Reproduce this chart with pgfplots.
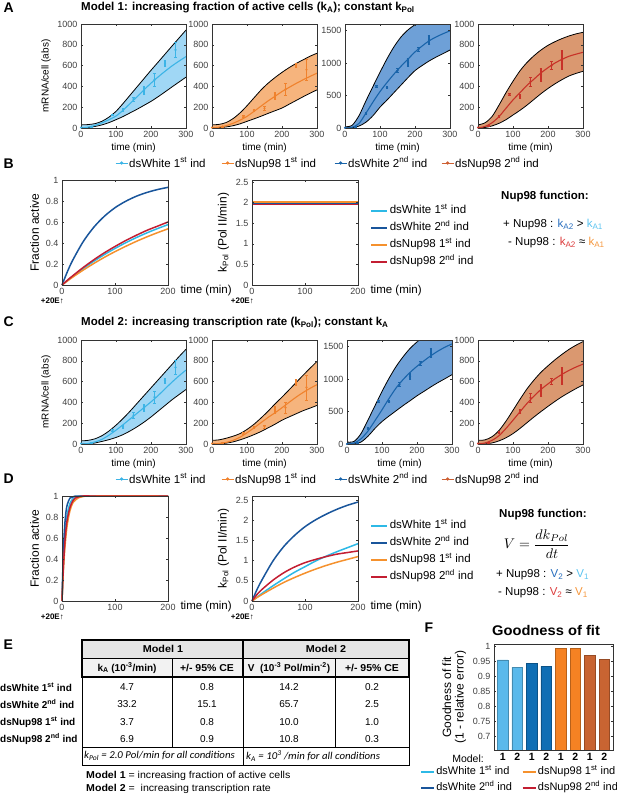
\documentclass[border=0pt]{standalone}
\usepackage{fontspec}
\setmainfont{Liberation Sans}
\newfontfamily\carlito{Carlito}
\usepackage{graphicx}
\usepackage{pgfplots}
\usepackage{pgfplotstable}
\pgfplotsset{compat=1.18}

\definecolor{cLB}{RGB}{60,180,230}
\definecolor{fLB}{RGB}{160,215,245}
\definecolor{cOR}{RGB}{240,130,45}
\definecolor{fOR}{RGB}{246,180,125}
\definecolor{cDB}{RGB}{25,100,170}
\definecolor{fDB}{RGB}{110,160,215}
\definecolor{cRD}{RGB}{200,50,40}
\definecolor{fRD}{RGB}{218,152,112}
\definecolor{lgBR}{RGB}{205,95,50}
\definecolor{bLB}{RGB}{45,185,230}
\definecolor{bDB}{RGB}{25,85,155}
\definecolor{bOR}{RGB}{245,145,45}
\definecolor{bRD}{RGB}{195,30,50}
\definecolor{tDB}{RGB}{40,110,190}
\definecolor{tLB}{RGB}{90,195,240}
\definecolor{tRD}{RGB}{220,60,60}
\definecolor{tOR}{RGB}{245,150,60}
\definecolor{fb1}{RGB}{90,185,235}
\definecolor{fb2}{RGB}{15,110,180}
\definecolor{fb3}{RGB}{245,130,35}
\definecolor{fb4}{RGB}{200,100,50}

% ---------- Model 1 bands ----------
\pgfplotstableread{
t u l m
0 30 0 0
20 33 5 8
40 42 15 25
60 65 30 50
80 105 52 80
100 160 80 115
120 235 110 170
140 315 145 235
160 395 180 300
180 475 218 367
200 555 256 431
220 632 300 490
240 710 347 545
260 788 395 597
280 865 442 643
300 942 489 687
}\tAa
\pgfplotstableread{
t y e
0 5 5
30 12 5
90 128 8
120 176 12
150 278 20
180 361 38
210 463 65
240 623 25
270 751 70
}\dAa
\pgfplotstableread{
t u l m
0 30 0 0
20 35 3 8
40 52 10 22
60 90 22 45
80 145 40 75
100 214 64 112
120 290 88 160
140 365 113 210
160 430 140 260
180 485 166 305
200 535 192 351
220 580 228 390
240 620 264 428
260 655 300 463
280 690 334 496
300 719 367 527
}\tAb
\pgfplotstableread{
t y e
0 5 5
30 15 5
90 112 8
120 170 10
150 190 18
180 312 35
210 372 55
240 605 20
270 560 100
}\dAb
\pgfplotstableread{
t u l m
0 20 0 0
20 40 5 10
40 190 30 70
60 420 90 230
80 640 190 400
100 857 321 560
120 1065 430 700
140 1250 545 830
160 1400 660 950
180 1510 775 1060
200 1590 883 1170
220 1660 960 1260
240 1720 1030 1340
260 1770 1090 1400
280 1810 1145 1450
300 1850 1199 1495
}\tAc
\pgfplotstableread{
t y e
0 5 5
30 20 8
60 225 12
90 640 10
120 625 20
150 883 30
180 1010 55
210 1214 30
240 1352 70
}\dAc
\pgfplotstableread{
t u l m
0 30 0 0
20 50 5 15
40 110 20 50
60 220 45 110
80 340 80 190
100 450 125 270
120 550 170 340
140 630 220 410
160 695 275 470
180 750 330 530
200 795 380 580
220 830 425 625
240 860 465 660
260 885 500 690
280 905 525 710
300 920 545 728
}\tAd
\pgfplotstableread{
t y e
0 5 5
30 20 5
60 112 10
90 320 10
120 303 20
150 447 45
180 511 60
210 600 40
240 655 90
}\dAd
% ---------- Model 2 bands ----------
\pgfplotstableread{
t u l m
0 30 0 0
20 35 0 5
40 50 10 20
60 80 25 45
80 125 42 85
100 181 63 133
120 245 90 185
140 315 125 240
160 390 165 295
180 465 210 350
200 540 260 405
220 615 315 465
240 690 370 530
260 765 425 595
280 840 475 655
300 911 524 711
}\tCa
\pgfplotstableread{
t y e
0 5 5
30 10 5
90 133 10
120 165 12
150 276 25
180 349 35
210 451 60
240 610 25
270 737 70
}\dCa
\pgfplotstableread{
t u l m
0 35 0 0
20 40 0 5
40 55 8 15
60 75 20 35
80 100 40 65
100 140 63 108
120 190 90 155
140 250 120 205
160 315 155 255
180 385 190 300
200 451 229 349
220 520 260 400
240 590 290 450
260 660 320 495
280 728 345 535
300 794 371 571
}\tCb
\pgfplotstableread{
t y e
0 5 5
30 10 5
90 105 8
120 160 10
150 168 15
180 330 35
210 350 55
240 590 30
270 545 120
}\dCb
\pgfplotstableread{
t u l m
0 30 0 0
20 40 0 15
40 160 30 80
60 370 120 200
80 590 240 360
100 809 345 526
120 1010 430 700
140 1190 510 860
160 1340 590 990
180 1470 665 1100
200 1570 742 1196
220 1660 810 1280
240 1760 880 1360
260 1870 945 1430
280 1960 1005 1490
300 2040 1067 1540
}\tCc
\pgfplotstableread{
t y e
0 0 5
30 20 8
60 242 10
90 655 12
120 655 15
150 912 30
180 1041 50
210 1247 30
240 1402 70
}\dCc
\pgfplotstableread{
t u l m
0 35 0 0
20 40 0 10
40 70 10 35
60 130 30 80
80 220 60 150
100 324 100 229
120 430 150 310
140 530 205 390
160 615 260 460
180 690 312 525
200 752 362 578
220 810 410 627
240 862 455 670
260 910 495 708
280 950 533 740
300 984 568 768
}\tCd
\pgfplotstableread{
t y e
0 5 5
30 15 5
60 110 10
120 317 20
150 444 40
180 514 60
210 603 30
240 657 80
}\dCd
% ---------- kinetics ----------
\pgfplotstableread{
t lb db or rd
0 0 0 0 0
10 0.042 0.125 0.037 0.045
20 0.082 0.234 0.074 0.087
40 0.157 0.413 0.142 0.167
60 0.226 0.55 0.205 0.24
80 0.29 0.655 0.264 0.307
100 0.348 0.736 0.318 0.367
120 0.402 0.797 0.368 0.423
140 0.451 0.845 0.415 0.473
160 0.496 0.881 0.458 0.52
180 0.537 0.909 0.498 0.56
200 0.575 0.93 0.535 0.60
}\tBa
\pgfplotstableread{
t lb db or rd
0 1.98 1.97 2.01 1.95
200 1.98 1.97 2.01 1.95
}\tBb
\pgfplotstableread{
t lb db or rd
0 0 0 0 0
2.5 0.36 0.46 0.28 0.31
5 0.59 0.71 0.48 0.53
7.5 0.74 0.85 0.62 0.68
10 0.83 0.92 0.73 0.78
15 0.93 0.98 0.86 0.89
20 0.97 0.99 0.93 0.95
25 0.99 1.0 0.96 0.98
30 0.995 1.0 0.98 0.99
40 1.0 1.0 0.995 1.0
60 1 1 1 1
200 1 1 1 1
}\tDa
\pgfplotstableread{
t lb db or rd
0 0 0 0 0
10 0.1 0.3 0.09 0.17
20 0.2 0.55 0.17 0.3
40 0.38 1.0 0.32 0.52
60 0.55 1.35 0.46 0.7
80 0.71 1.62 0.58 0.84
100 0.85 1.84 0.69 0.95
120 0.99 2.01 0.79 1.03
140 1.11 2.15 0.88 1.1
160 1.22 2.27 0.96 1.16
180 1.32 2.37 1.03 1.2
200 1.42 2.45 1.1 1.24
}\tDb

\pgfplotsset{
  base/.style={scale only axis, axis on top, tick align=inside, major tick length=2pt,
    axis line style={black!80, line width=0.7pt}, tick style={black!80, line width=0.5pt},
    tick label style={font=\fontsize{9}{10}\selectfont, text=black!75},
    /pgf/number format/assume math mode=true, /pgf/number format/1000 sep={},
    scaled ticks=false},
  mrna/.style={base, anchor=south west, width=105pt, height=104pt, xmin=0, xmax=300,
    xtick={0,100,200,300}, ymin=0,
    xlabel={time (min)}, xlabel style={font=\fontsize{10}{12}\selectfont, yshift=2pt},
    ylabel style={font=\fontsize{10}{12}\selectfont}},
  legA/.style={legend columns=4, legend cell align=left,
    legend style={at={(0.295,-0.3365)}, anchor=west, draw=none, fill=none,
      font=\fontsize{11.5}{13}\selectfont, nodes={inner xsep=1pt, inner ysep=1pt}},
    legend image code/.code={\draw[##1, line width=1pt] (0pt,0pt) -- (12pt,0pt); \fill[##1] (6pt,0pt) circle (1.4pt);}},
  kin/.style={base, anchor=south west, width=106pt, height=105pt, xmin=0, xmax=200,
    xtick={0,100,200}, ymin=0, clip=false,
    xlabel={time (min)}, xlabel style={at={(axis description cs:1,0)}, anchor=west,
      xshift=9pt, yshift=-6pt, font=\fontsize{11.5}{13}\selectfont},
    ylabel style={font=\fontsize{12}{14}\selectfont}},
  legB/.style={legend cell align=left,
    legend style={at={(1.086,0.462)}, anchor=west, draw=none, fill=none,
      font=\fontsize{11.5}{13}\selectfont, row sep=5pt,
      nodes={inner xsep=1.5pt, inner ysep=0pt, text height=9pt, text depth=3pt}},
    legend image code/.code={\draw[##1, line width=2pt] (0pt,0pt) -- (16pt,0pt);}},
}

\newcommand{\mrnaplot}[4]{%
  \addplot[fill=#2, draw=none, smooth] table[x=t,y=u]{#1} \closedcycle;
  \addplot[fill=white, draw=none, smooth] table[x=t,y=l]{#1} \closedcycle;
  \addplot[black, line width=0.8pt, smooth] table[x=t,y=u]{#1};
  \addplot[black, line width=0.8pt, smooth] table[x=t,y=l]{#1};
  \addplot[#3, line width=1.1pt, smooth] table[x=t,y=m]{#1};
  \addplot[#3, only marks, mark=*, mark size=0.9pt,
    error bars/.cd, y dir=both, y explicit, error bar style={line width=1.1pt},
    error mark options={rotate=90, mark size=1.4pt, line width=0.6pt}]
    table[x=t,y=y,y error=e]{#4};
}
\newcommand{\legAentries}{%
  \addlegendimage{cLB}\addlegendentry{\makebox[91pt][l]{dsWhite 1\textsuperscript{st} ind}}
  \addlegendimage{cOR}\addlegendentry{\makebox[98pt][l]{dsNup98 1\textsuperscript{st} ind}}
  \addlegendimage{cDB}\addlegendentry{\makebox[92pt][l]{dsWhite 2\textsuperscript{nd} ind}}
  \addlegendimage{lgBR}\addlegendentry{dsNup98 2\textsuperscript{nd} ind}
}
\newcommand{\legBentries}{%
  \addlegendimage{bLB}\addlegendentry{dsWhite 1\textsuperscript{st} ind}
  \addlegendimage{bDB}\addlegendentry{dsWhite 2\textsuperscript{nd} ind}
  \addlegendimage{bOR}\addlegendentry{dsNup98 1\textsuperscript{st} ind}
  \addlegendimage{bRD}\addlegendentry{dsNup98 2\textsuperscript{nd} ind}
}
\newcommand{\kinplot}[1]{%
  \addplot[bLB, line width=1.5pt, smooth] table[x=t,y=lb]{#1};
  \addplot[bDB, line width=1.5pt, smooth] table[x=t,y=db]{#1};
  \addplot[bOR, line width=1.5pt, smooth] table[x=t,y=or]{#1};
  \addplot[bRD, line width=1.5pt, smooth] table[x=t,y=rd]{#1};
}

\begin{document}
\begin{tikzpicture}
\path[use as bounding box] (0pt,0pt) rectangle (617pt,-796pt);

% ===== Panel A =====
\begin{axis}[mrna, at={(81pt,-128pt)}, ymax=1000, ytick={0,200,400,600,800,1000}, ylabel={mRNA/cell (abs)}, legA]
\legAentries
\mrnaplot{\tAa}{fLB}{cLB}{\dAa}
\end{axis}
\begin{axis}[mrna, at={(212pt,-128pt)}, ymax=1000, ytick={0,200,400,600,800,1000}]
\mrnaplot{\tAb}{fOR}{cOR}{\dAb}
\end{axis}
\begin{axis}[mrna, at={(345pt,-128pt)}, ymax=1600, ytick={0,500,1000,1500}]
\mrnaplot{\tAc}{fDB}{cDB}{\dAc}
\end{axis}
\begin{axis}[mrna, at={(478pt,-128pt)}, ymax=1000, ytick={0,200,400,600,800,1000}]
\mrnaplot{\tAd}{fRD}{cRD}{\dAd}
\end{axis}

% ===== Panel C =====
\begin{axis}[mrna, at={(81pt,-444pt)}, ymax=1000, ytick={0,200,400,600,800,1000}, ylabel={mRNA/cell (abs)}, legA]
\legAentries
\mrnaplot{\tCa}{fLB}{cLB}{\dCa}
\end{axis}
\begin{axis}[mrna, at={(212pt,-444pt)}, ymax=1000, ytick={0,200,400,600,800,1000}]
\mrnaplot{\tCb}{fOR}{cOR}{\dCb}
\end{axis}
\begin{axis}[mrna, at={(347pt,-444pt)}, ymax=1600, ytick={0,500,1000,1500}]
\mrnaplot{\tCc}{fDB}{cDB}{\dCc}
\end{axis}
\begin{axis}[mrna, at={(478pt,-444pt)}, ymax=1000, ytick={0,200,400,600,800,1000}]
\mrnaplot{\tCd}{fRD}{cRD}{\dCd}
\end{axis}

% ===== Panel B =====
\begin{axis}[kin, at={(62pt,-285pt)}, ymax=1, ytick={0,0.2,0.4,0.6,0.8,1}, ylabel={Fraction active}]
\kinplot{\tBa}
\end{axis}
\begin{axis}[kin, at={(252pt,-285pt)}, ymax=2.55, ytick={0,0.5,1,1.5,2,2.5}, ylabel={k\textsubscript{Pol} (Pol II/min)}, legB]
\legBentries
\kinplot{\tBb}
\end{axis}

% ===== Panel D =====
\begin{axis}[kin, at={(62pt,-601pt)}, ymax=1, ytick={0,0.2,0.4,0.6,0.8,1}, ylabel={Fraction active}]
\kinplot{\tDa}
\end{axis}
\begin{axis}[kin, at={(252pt,-601pt)}, ymax=2.6, ytick={0,0.5,1,1.5,2,2.5}, ylabel={k\textsubscript{Pol} (Pol II/min)}, legB, legend style={at={(1.086,0.473)}}]
\legBentries
\kinplot{\tDb}
\end{axis}

% ===== Panel F =====
\begin{axis}[base, anchor=south west, at={(494pt,-750pt)}, width=119pt, height=106pt,
  xmin=0.4, xmax=8.6, ymin=0.653, ymax=1.008,
  ytick={0.7,0.75,0.8,0.85,0.9,0.95,1},
  xtick={1,2,3,4,5,6,7,8}, xticklabels={1,2,1,2,1,2,1,2},
  xtick style={draw=none},
  xticklabel style={font=\bfseries\fontsize{10.5}{12}\selectfont, text=black},
  ylabel={Goodness of fit\\(1 - relative error)},
  ylabel style={align=center, font=\fontsize{12}{12.5}\selectfont},
  legend columns=2, legend cell align=left,
  legend style={at={(-0.647,-0.283)}, anchor=west, draw=none, fill=none,
    font=\fontsize{11}{12}\selectfont, row sep=4.5pt,
    nodes={inner xsep=1.5pt, inner ysep=0pt, text height=8.5pt, text depth=3pt}},
  legend image code/.code={\draw[#1, line width=1.6pt] (0pt,0pt) -- (13pt,0pt);}]
\addlegendimage{bLB}\addlegendentry{\makebox[84pt][l]{dsWhite 1\textsuperscript{st} ind}}
\addlegendimage{bOR}\addlegendentry{dsNup98 1\textsuperscript{st} ind}
\addlegendimage{bDB}\addlegendentry{\makebox[84pt][l]{dsWhite 2\textsuperscript{nd} ind}}
\addlegendimage{bRD}\addlegendentry{dsNup98 2\textsuperscript{nd} ind}
\addplot[ybar, bar width=10.5pt, bar shift=0pt, fill=fb1, draw=fb1!75!black, line width=0.4pt] coordinates {(1,0.955) (2,0.930)};
\addplot[ybar, bar width=10.5pt, bar shift=0pt, fill=fb2, draw=fb2!75!black, line width=0.4pt] coordinates {(3,0.943) (4,0.933)};
\addplot[ybar, bar width=10.5pt, bar shift=0pt, fill=fb3, draw=fb3!75!black, line width=0.4pt] coordinates {(5,0.994) (6,0.994)};
\addplot[ybar, bar width=10.5pt, bar shift=0pt, fill=fb4, draw=fb4!75!black, line width=0.4pt] coordinates {(7,0.970) (8,0.956)};
\end{axis}

% ===== Text, table =====
\begin{scope}[x=1pt,y=-1pt]
\tikzset{lett/.style={anchor=west, font=\bfseries\fontsize{14}{16}\selectfont}}
\node[lett] at (0,8) {A};
\node[lett] at (0,164) {B};
\node[lett] at (0,322) {C};
\node[lett] at (0,479) {D};
\node[lett] at (0,645) {E};
\node[lett] at (421,628) {F};

\node[anchor=west, inner sep=0pt, font=\bfseries\fontsize{11.5}{13}\selectfont] at (81,8) {Model 1: increasing fraction of active cells (k\textsubscript{A}); constant k\textsubscript{Pol}};
\node[anchor=west, inner sep=0pt, font=\bfseries\fontsize{11.5}{13}\selectfont] at (81,323) {Model 2: increasing transcription rate (k\textsubscript{Pol}); constant k\textsubscript{A}};

\tikzset{tw/.style={anchor=east, inner sep=0pt, font=\bfseries\fontsize{8}{9}\selectfont}}
\node[tw] at (64,301) {+20E↑};
\node[tw] at (254,301) {+20E↑};
\node[tw] at (64,617) {+20E↑};
\node[tw] at (254,617) {+20E↑};

\tikzset{nf/.style={inner sep=0pt, font=\bfseries\fontsize{11.5}{13}\selectfont},
         nl/.style={anchor=west, inner sep=0pt, font=\fontsize{11.5}{13}\selectfont}}
\node[nf] at (545,197) {Nup98 function:};
\node[nl] at (503,225) {+ Nup98 : \textcolor{tDB}{k\textsubscript{A2}} > \textcolor{tLB}{k\textsubscript{A1}}};
\node[nl] at (508,243) {- Nup98 : \textcolor{tRD}{k\textsubscript{A2}} ≈ \textcolor{tOR}{k\textsubscript{A1}}};

\node[nf] at (543,515) {Nup98 function:};
\node[inner sep=0pt] at (537,544) {\scalebox{1.4}{$\displaystyle V = \frac{dk_{Pol}}{dt}$}};
\node[nl] at (496,575) {+ Nup98 : \textcolor{tDB}{V\textsubscript{2}} > \textcolor{tLB}{V\textsubscript{1}}};
\node[nl] at (498,593) {- Nup98 : \textcolor{tRD}{V\textsubscript{2}} ≈ \textcolor{tOR}{V\textsubscript{1}}};

% table E
\fill[black!10] (82,640) rectangle (409,658);
\fill[black!5] (82,658) rectangle (409,677);
\draw[line width=0.6pt] (82,658) -- (409,658);
\draw[line width=0.6pt] (172,658) -- (172,677);
\draw[line width=0.6pt] (335,658) -- (335,677);
\draw[line width=1.8pt] (82,640) rectangle (243,677);
\draw[line width=1.8pt] (243,640) rectangle (409,677);
\draw[line width=0.7pt] (82,677) rectangle (409,765);
\draw[line width=0.7pt] (82,747) -- (409,747);
\draw[line width=0.7pt] (172,677) -- (172,747);
\draw[line width=0.7pt] (243,677) -- (243,765);
\draw[line width=0.7pt] (335,677) -- (335,747);

\tikzset{th/.style={font=\bfseries\fontsize{10}{12}\selectfont, inner sep=0pt}}
\node[th] at (163,649) {\scalebox{1.08}[1]{Model 1}};
\node[th] at (326,649) {\scalebox{1.08}[1]{Model 2}};
\node[th] at (127,668) {k\textsubscript{A} (10\textsuperscript{-3}/min)};
\node[th] at (207,668) {\scalebox{1.05}[1]{+/- 95\% CE}};
\node[th] at (289,668) {V\ \ (10\textsuperscript{-3} Pol/min\textsuperscript{-2})};
\node[th] at (372,668) {\scalebox{1.05}[1]{+/- 95\% CE}};

\tikzset{rl/.style={anchor=west, inner sep=0pt, font=\bfseries\fontsize{10}{12}\selectfont},
        td/.style={inner sep=0pt, font=\fontsize{10}{12}\selectfont}}
\node[rl] at (0,687) {dsWhite 1\textsuperscript{st} ind};
\node[rl] at (0,704) {dsWhite 2\textsuperscript{nd} ind};
\node[rl] at (0,722) {dsNup98 1\textsuperscript{st} ind};
\node[rl] at (0,739) {dsNup98 2\textsuperscript{nd} ind};
\node[td] at (127,687) {4.7};  \node[td] at (207,687) {0.8};  \node[td] at (289,687) {14.2}; \node[td] at (372,687) {0.2};
\node[td] at (127,704) {33.2}; \node[td] at (207,704) {15.1}; \node[td] at (289,704) {65.7}; \node[td] at (372,704) {2.5};
\node[td] at (127,722) {3.7};  \node[td] at (207,722) {0.8};  \node[td] at (289,722) {10.0}; \node[td] at (372,722) {1.0};
\node[td] at (127,739) {6.9};  \node[td] at (207,739) {0.9};  \node[td] at (289,739) {10.8}; \node[td] at (372,739) {0.3};

\node[anchor=west, inner sep=0pt, font=\carlito\itshape\fontsize{10.5}{12}\selectfont] at (84,756) {\scalebox{1.03}[1]{k\textsubscript{Pol} = 2.0 Pol/min for all conditions}};
\node[anchor=west, inner sep=0pt, font=\carlito\itshape\fontsize{10.5}{12}\selectfont] at (246,756) {\scalebox{1.03}[1]{k\textsubscript{A} = 10\textsuperscript{3} /min for all conditions}};

\node[anchor=west, inner sep=0pt, font=\fontsize{10}{12}\selectfont] at (86,776) {\scalebox{1.06}[1]{\textbf{Model 1} = increasing fraction of active cells}};
\node[anchor=west, inner sep=0pt, font=\fontsize{10}{12}\selectfont] at (86,789) {\scalebox{1.06}[1]{\textbf{Model 2} =\ \ increasing transcription rate}};

% F extras
\node[font=\bfseries\fontsize{14}{16}\selectfont] at (546,630) {\scalebox{1.05}[1]{Goodness of fit}};
\node[anchor=east, inner sep=0pt, font=\fontsize{10.5}{12}\selectfont] at (484,759) {Model:};
\end{scope}
\end{tikzpicture}
\end{document}
